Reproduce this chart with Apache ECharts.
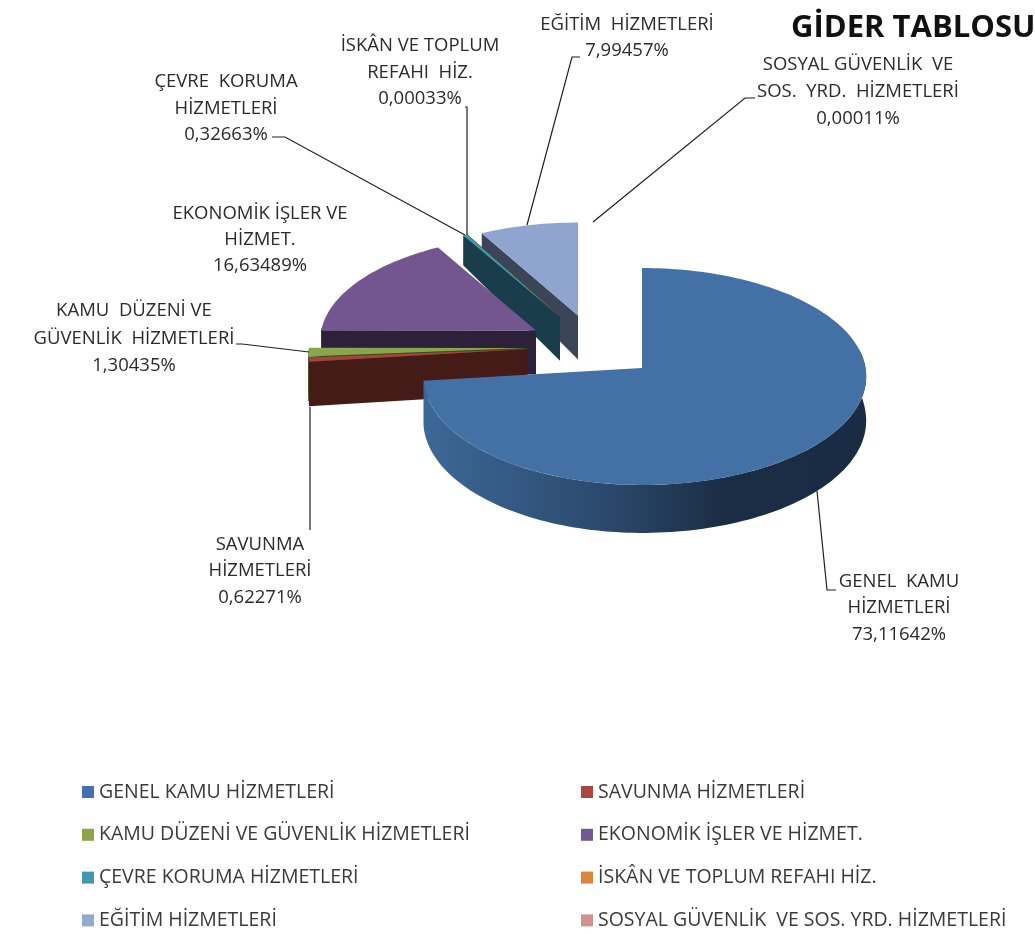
<!DOCTYPE html>
<html><head><meta charset="utf-8">
<style>html,body{margin:0;padding:0;background:#fff;overflow:hidden}#c{width:1035px;height:934px}</style>
<script src="https://cdn.jsdelivr.net/npm/echarts@6/dist/echarts.min.js"></script>
</head><body><div id="c"></div>
<script>
const categories = ['GENEL KAMU HİZMETLERİ','SAVUNMA HİZMETLERİ','KAMU DÜZENİ VE GÜVENLİK HİZMETLERİ','EKONOMİK İŞLER VE HİZMET.','ÇEVRE KORUMA HİZMETLERİ','İSKÂN VE TOPLUM REFAHI HİZ.','EĞİTİM HİZMETLERİ','SOSYAL GÜVENLİK  VE SOS. YRD. HİZMETLERİ'];
const shares = [73.11642,0.62271,1.30435,16.63489,0.32663,0.00033,7.99457,0.00011];
const labelLines = [['GENEL  KAMU','HİZMETLERİ'],['SAVUNMA','HİZMETLERİ'],['KAMU  DÜZENİ VE','GÜVENLİK  HİZMETLERİ'],['EKONOMİK İŞLER VE','HİZMET.'],['ÇEVRE  KORUMA','HİZMETLERİ'],['İSKÂN VE TOPLUM','REFAHI  HİZ.'],['EĞİTİM  HİZMETLERİ'],['SOSYAL GÜVENLİK  VE','SOS.  YRD.  HİZMETLERİ']];
const swatch = ['#4572a7','#aa4643','#89a54e','#71588f','#4198af','#db843d','#93a9cf','#d19392'];
const topColor = ['#4370a5','#a5443f','#8aa64a','#73558f','#3a9cb0','#db843d','#8fa5cf','#d19392'];
const sideColor = ['#1b2d45','#451b18','#3d4a22','#2c203b','#193d4a','#6a4020','#3c4558','#604545'];

// layout of the drawing (not data)
const RX_L = 218, RX_R = 223.5, RY = 107.8, K = 0.0784;
const slicePose = [
  {ax:642,ay:368,sx:1,sy:1,sh:0},{ax:527.5,ay:349,sx:1,sy:1,sh:0},{ax:527,ay:348,sx:1,sy:1,sh:0},
  {ax:536,ay:330.5,sx:.985,sy:.95,sh:3},{ax:560,ay:316.7,sx:.95,sy:.93,sh:0},{ax:560,ay:316,sx:.95,sy:.93,sh:0},
  {ax:578,ay:315.5,sx:.98,sy:.93,sh:0},{ax:578,ay:315.5,sx:.98,sy:.93,sh:0}];
const labelPos = [
  {x:899,y:[582,608,635]},{x:260,y:[545,571,598]},{x:134,y:[311,339,366]},{x:260,y:[214,240,266]},
  {x:226,y:[82,109,135]},{x:420,y:[46,73,99]},{x:627,y:[25,51]},{x:858,y:[65,92,119]}];
const leaders = [
  [[817,491],[827,590],[836,590]],[[310,407],[310,530]],[[309,352],[242,344],[236,344]],null,
  [[465,235],[285,137],[272,137]],[[467,235],[467,107],[465,107]],[[527,225],[572,57],[580,57]],[[593,222],[745,98],[755,98]]];
const drawOrder = [7,6,5,4,3,2,1,0];
const FONT = '"Open Sans"';

const total = shares.reduce((a,b)=>a+b,0);
const starts = []; shares.reduce((a,v,i)=>(starts[i]=a,a+v),0);
const pct = v => v.toFixed(5).replace('.',',')+'%';

function project(p,deg){
  const t=deg*Math.PI/180,u=Math.sin(t),v=Math.cos(t),w=1+K*v;
  const rx=u<0?RX_L:RX_R;
  return {x:p.ax+(rx*p.sx*u+p.sh*v)/w,y:p.ay-RY*p.sy*v/w,v};
}
const thick = v => 44*(1-(v>0?.37:.09)*v);

function renderSlice(i,api){
  const val=api.value(0),a0=starts[i]/total*360,a1=a0+val/total*360,p=slicePose[i];
  const step=(a1-a0)/Math.max(2,Math.ceil((a1-a0)/1.5));
  const arc=[];for(let a=a0;a<=a1+1e-9;a+=step)arc.push(project(p,a));
  const children=[];
  const f0=Math.max(a0,80),f1=Math.min(a1,272);
  if(f1>f0){
    const n=Math.ceil((f1-f0)/1.5)+1,tp=[],bt=[];
    for(let k=0;k<=n;k++){const q=project(p,f0+(f1-f0)*k/n);tp.push([q.x,q.y]);bt.unshift([q.x,q.y+thick(q.v)]);}
    const fill=i===0?{type:'linear',x:425,y:0,x2:865,y2:0,global:true,colorStops:[
      {offset:0,color:'#3c6896'},{offset:.4,color:'#2c4a6e'},{offset:.68,color:'#1b2d45'},{offset:1,color:'#1a2c44'}]}:sideColor[i];
    children.push({type:'polygon',shape:{points:tp.concat(bt)},style:{fill}});
  }
  if(i!==0){
    const o=arc[0];
    children.push({type:'polygon',shape:{points:[[p.ax,p.ay],[o.x,o.y],[o.x,o.y+thick(o.v)],[p.ax,p.ay+44]]},style:{fill:sideColor[i]}});
  }
  children.push({type:'polygon',shape:{points:[[p.ax,p.ay]].concat(arc.map(q=>[q.x,q.y]))},style:{fill:topColor[i]}});
  if(leaders[i])children.push({type:'polyline',shape:{points:leaders[i]},style:{stroke:'#1f1f1f',lineWidth:1.2,fill:null}});
  const lines=labelLines[i].concat(pct(val));
  lines.forEach((s,k)=>children.push({type:'text',style:{text:s,x:labelPos[i].x,y:labelPos[i].y[k],align:'center',verticalAlign:'middle',font:'18.5px '+FONT,fill:'#2b2b2b'}}));
  return {type:'group',children};
}

const series = drawOrder.map(i=>({
  type:'custom',name:categories[i],coordinateSystem:'none',silent:true,animation:false,
  itemStyle:{color:swatch[i]},data:[[shares[i]]],
  renderItem:(params,api)=>renderSlice(i,api)
}));

function legendOf(names,left){
  return {left,top:782,padding:0,orient:'vertical',itemWidth:12,itemHeight:12,itemGap:22.8,icon:'rect',selectedMode:false,
    textStyle:{fontFamily:FONT,fontSize:19.5,color:'#3a3a3a'},data:names,itemStyle:{borderWidth:0}};
}
const chart=echarts.init(document.getElementById('c'),null,{renderer:'canvas'});
chart.setOption({
  backgroundColor:'#fff',animation:false,
  title:{text:'GİDER TABLOSU',left:786,top:8,textStyle:{fontFamily:FONT,fontSize:31,fontWeight:'bold',color:'#111'}},
  legend:[legendOf([0,2,4,6].map(i=>categories[i]),82),legendOf([1,3,5,7].map(i=>categories[i]),581)],
  series
});
</script></body></html>
